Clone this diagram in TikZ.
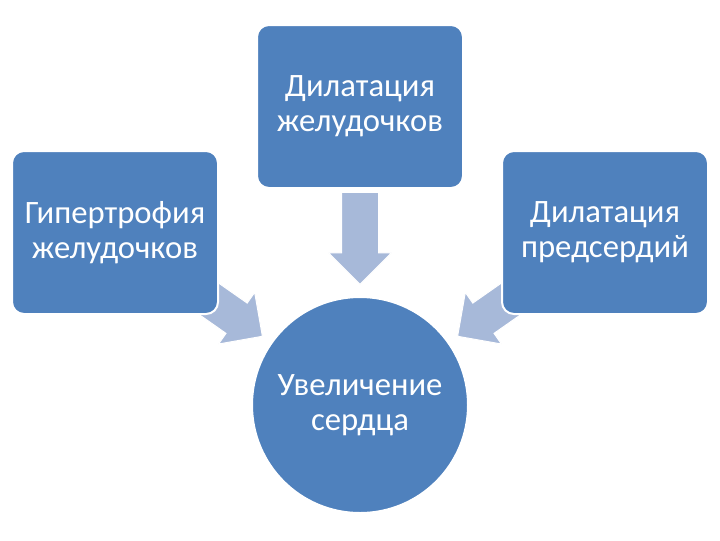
\documentclass[tikz,border=0pt]{standalone}
\usepackage{fontspec}
\setmainfont{Carlito}
\usepackage{tikz}
\usetikzlibrary{shapes.arrows,positioning,backgrounds,calc}

\definecolor{boxblue}{RGB}{79,129,189}
\definecolor{flowblue}{RGB}{167,185,217}

\begin{document}
\begin{tikzpicture}[
    x=0.75pt, y=-0.75pt,
    box/.style={rectangle, rounded corners=9pt, draw=white, line width=1.5pt, fill=boxblue, text=white, minimum width=154.5pt, minimum height=122.25pt, inner sep=0pt, align=center, font=\fontsize{24.5}{26.5}\selectfont},
    hub/.style={circle, draw=white, line width=1.5pt, fill=boxblue, text=white, minimum size=162pt, inner sep=0pt, align=center, font=\fontsize{24.5}{26.5}\selectfont},
    flow/.style={single arrow, fill=flowblue, draw=white, line width=0.75pt, minimum height=69pt, minimum width=46.5pt, single arrow head extend=9.75pt, inner xsep=0pt, inner ysep=13.5pt, anchor=tip}
]
\useasboundingbox (0,0) rectangle (720,540);

% Result
\node[hub] (heart) at (360,405) {Увеличение\\сердца};

% Causes
\node[box, above=80.25pt of heart] (dilvent) {Дилатация\\желудочков};
\node[box, left=27.75pt of dilvent, yshift=-94.5pt] (hyper) {Гипертрофия\\желудочков};
\node[box, right=27.75pt of dilvent, yshift=-94.5pt] (dilatr) {Дилатация\\предсердий};

% Block arrows
\begin{scope}[on background layer]
\fill[white] (0,0) rectangle (720,540);
\node[flow, rotate=-90] (arrT) at ($(heart)!90pt!(dilvent)$) {};
\node[flow, rotate=-35] (arrL) at ($(heart)!89pt!(hyper)$) {};
\node[flow, rotate=-145] (arrR) at ($(heart)!89pt!(dilatr)$) {};
\end{scope}

\end{tikzpicture}
\end{document}
